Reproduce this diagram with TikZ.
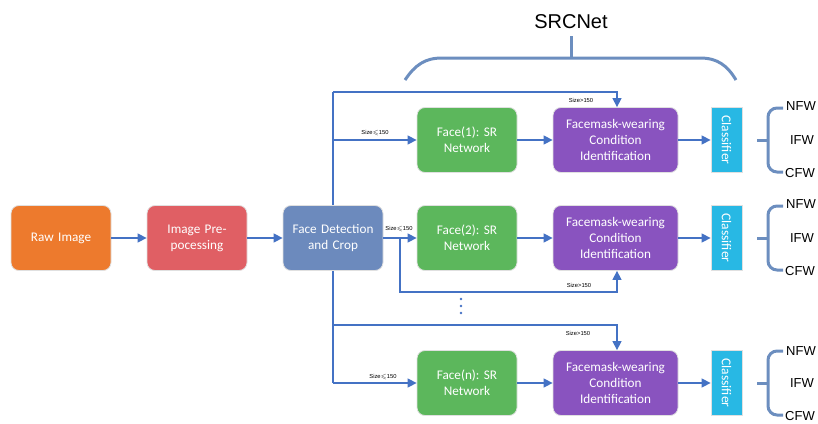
\documentclass[tikz,border=0pt]{standalone}
\usepackage{amssymb}
\usepackage{fontspec}
\setmainfont{Carlito}
\newfontfamily\arialfont{Liberation Sans}
\usetikzlibrary{arrows.meta}
\frenchspacing
\definecolor{cOrange}{RGB}{237,122,45}
\definecolor{cRed}{RGB}{224,95,100}
\definecolor{cFD}{RGB}{108,138,189}
\definecolor{cGreen}{RGB}{92,183,92}
\definecolor{cPurple}{RGB}{137,83,191}
\definecolor{cCyan}{RGB}{40,184,228}
\definecolor{cArrow}{RGB}{68,114,196}
\definecolor{cBrace}{RGB}{108,142,191}
\tikzset{
  box/.style={draw=black!12, line width=0.8pt, rounded corners=8pt, minimum width=100pt, minimum height=65pt, text width=96pt, align=center, text=white, font=\fontsize{13.2}{16}\selectfont, inner sep=0pt},
  wide/.style={box, minimum width=125pt, text width=122pt},
  cls/.style={draw=black!12, line width=0.8pt, fill=cCyan, minimum width=31pt, minimum height=65pt, inner sep=0pt, text=white, font=\fontsize{13.5}{15}\selectfont},
  conn/.style={draw=cArrow, line width=1.4pt, -{Triangle[length=9pt,width=9pt]}},
  line/.style={draw=cArrow, line width=1.4pt},
  brc/.style={draw=cBrace, line width=3pt, rounded corners=9pt},
  tiny/.style={font=\arialfont\fontsize{5.8}{6}\selectfont, inner sep=0pt},
  lab/.style={font=\arialfont\fontsize{13}{15}\selectfont, inner sep=0pt},
  dot/.style={circle, fill=cArrow, inner sep=0pt, minimum size=2.6pt},
}
\begin{document}
\begin{tikzpicture}[x=1pt,y=-1pt]
\useasboundingbox (0,0) rectangle (818,423);
% main chain
\node[box, fill=cOrange] (raw) at (61,238) {Raw Image};
\node[box, fill=cRed] (pre) at (197,238) {Image Pre-\\pocessing};
\node[box, fill=cFD] (fd) at (333,238) {Face Detection\\and Crop};
% rows
\node[box, fill=cGreen] (sr1) at (467,140) {Face(1): SR\\Network};
\node[box, fill=cGreen] (sr2) at (467,238) {Face(2): SR\\Network};
\node[box, fill=cGreen] (srn) at (467,383) {Face(n): SR\\Network};
\node[wide, fill=cPurple] (fm1) at (615.5,140) {Facemask-wearing\\Condition\\Identification};
\node[wide, fill=cPurple] (fm2) at (615.5,238) {Facemask-wearing\\Condition\\Identification};
\node[wide, fill=cPurple] (fmn) at (615.5,383) {Facemask-wearing\\Condition\\Identification};
\node[cls] (cl1) at (726.5,140) {\rotatebox{-90}{Classifier}};
\node[cls] (cl2) at (726.5,238) {\rotatebox{-90}{Classifier}};
\node[cls] (cln) at (726.5,383) {\rotatebox{-90}{Classifier}};
% dots
\node[dot] (d1) at (461,299) {};
\node[dot] (d2) at (461,306) {};
\node[dot] (d3) at (461,313) {};
% chain arrows
\draw[conn] (raw) -- (pre);
\draw[conn] (pre) -- (fd);
% row 1
\coordinate (t1) at (333,92);
\coordinate (t2) at (617,92);
\coordinate (b1) at (333,140);
\draw[line] (fd.north) -- (t1);
\draw[conn] (t1) -- (t2) -- (fm1.north -| t2);
\draw[conn] (b1) -- (sr1.west);
\node[tiny] (s1a) at (581,100) {Size>150};
\node[tiny] (s1b) at (375,133) {Size\ensuremath{\leqslant}150};
% row 2
\draw[conn] (fd.east) -- (sr2.west);
\coordinate (r2a) at (400,238);
\coordinate (r2b) at (400,292);
\coordinate (r2c) at (617,292);
\draw[conn] (r2a) -- (r2b) -- (r2c) -- (fm2.south -| r2c);
\node[tiny] (s2b) at (399,229) {Size\ensuremath{\leqslant}150};
\node[tiny] (s2a) at (579,285) {Size>150};
% row n
\coordinate (n1) at (333,383);
\coordinate (m1) at (333,325);
\coordinate (m2) at (617,325);
\draw[line] (fd.south) -- (n1);
\draw[conn] (n1) -- (srn.west);
\draw[conn] (m1) -- (m2) -- (fmn.north -| m2);
\node[tiny] (sna) at (578,333) {Size>150};
\node[tiny] (snb) at (383,377) {Size\ensuremath{\leqslant}150};
% row arrows
\draw[conn] (sr1) -- (fm1);
\draw[conn] (sr2) -- (fm2);
\draw[conn] (srn) -- (fmn);
\draw[conn] (fm1) -- (cl1);
\draw[conn] (fm2) -- (cl2);
\draw[conn] (fmn) -- (cln);
% class braces
\foreach \cy in {140,238,383}{
  \draw[brc] (783,\cy-32) -- (768,\cy-32) -- (768,\cy+32) -- (783,\cy+32);
  \draw[draw=cBrace, line width=3pt] (757,\cy) -- (768,\cy);
}
\node[lab] (nfw1) at (801,106) {NFW};
\node[lab] (ifw1) at (802,140) {IFW};
\node[lab] (cfw1) at (800,173) {CFW};
\node[lab] (nfw2) at (801,204) {NFW};
\node[lab] (ifw2) at (802,238) {IFW};
\node[lab] (cfw2) at (800,271) {CFW};
\node[lab] (nfwn) at (801,351) {NFW};
\node[lab] (ifwn) at (802,383) {IFW};
\node[lab] (cfwn) at (800,416) {CFW};
% SRCNet brace
\draw[draw=cBrace, line width=3pt] (405,80) .. controls (415,65) and (425,58) .. (442,58) -- (700,58) .. controls (717,58) and (727,65) .. (736,80);
\draw[draw=cBrace, line width=3pt] (571,58) -- (571,36);
\node[font=\arialfont\fontsize{20}{22}\selectfont, inner sep=0pt] (src) at (571,22) {SRCNet};
\end{tikzpicture}
\end{document}
